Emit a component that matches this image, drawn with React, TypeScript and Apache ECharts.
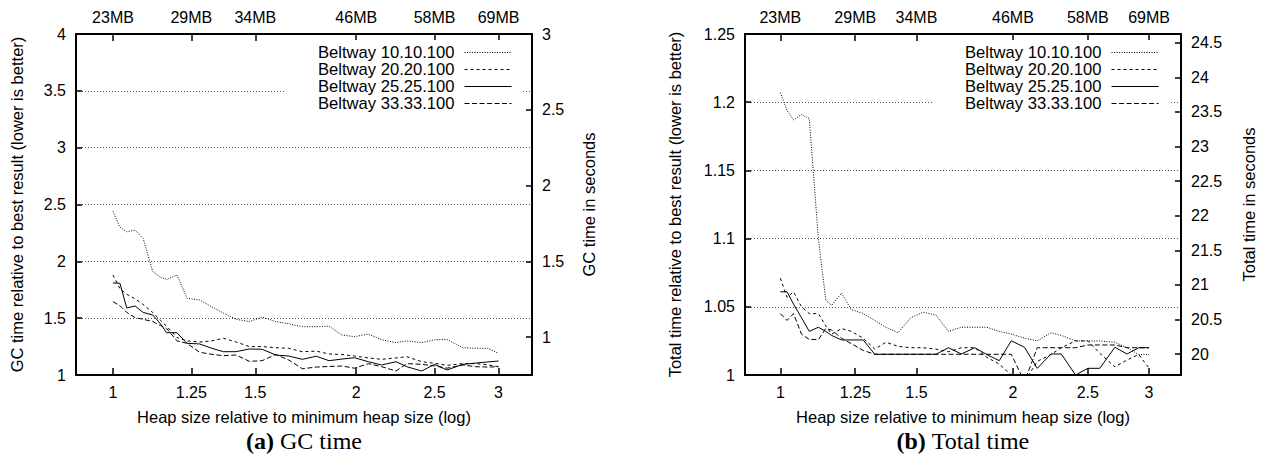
import React, { useEffect, useRef } from 'react';
import * as echarts from 'echarts';

// Heap sizes relative to the minimum heap size (shared by all series)
const HEAP = [1.0, 1.02, 1.04, 1.065, 1.09, 1.12, 1.145, 1.165, 1.2, 1.235, 1.28, 1.325, 1.37, 1.42, 1.475, 1.53, 1.59, 1.65, 1.715, 1.785, 1.85, 1.92, 1.99, 2.07, 2.15, 2.24, 2.31, 2.41, 2.5, 2.59, 2.71, 2.81, 2.91, 3.0];

const SERIES_NAMES = ['Beltway 10.10.100', 'Beltway 20.20.100', 'Beltway 25.25.100', 'Beltway 33.33.100'];

// (a) GC time relative to best result
const GC_10 = [2.44, 2.30, 2.26, 2.275, 2.20, 1.91, 1.86, 1.84, 1.88, 1.675, 1.66, 1.60, 1.545, 1.49, 1.47, 1.51, 1.47, 1.45, 1.425, 1.425, 1.43, 1.352, 1.337, 1.36, 1.31, 1.285, 1.30, 1.285, 1.31, 1.314, 1.24, 1.235, 1.235, 1.19];
const GC_20 = [1.88, 1.76, 1.71, 1.67, 1.62, 1.55, 1.48, 1.43, 1.33, 1.30, 1.29, 1.30, 1.323, 1.29, 1.25, 1.25, 1.24, 1.235, 1.205, 1.21, 1.185, 1.18, 1.167, 1.15, 1.138, 1.15, 1.161, 1.117, 1.103, 1.085, 1.10, 1.10, 1.09, 1.073];
const GC_25 = [1.81, 1.807, 1.59, 1.607, 1.55, 1.528, 1.45, 1.372, 1.372, 1.279, 1.273, 1.235, 1.205, 1.205, 1.229, 1.226, 1.176, 1.167, 1.138, 1.165, 1.126, 1.14, 1.152, 1.117, 1.088, 1.117, 1.073, 1.035, 1.094, 1.044, 1.094, 1.105, 1.115, 1.123];
const GC_33 = [1.645, 1.61, 1.55, 1.505, 1.49, 1.47, 1.435, 1.41, 1.30, 1.279, 1.20, 1.182, 1.17, 1.176, 1.12, 1.126, 1.18, 1.132, 1.055, 1.07, 1.075, 1.079, 1.06, 1.10, 1.073, 1.035, 1.10, 1.094, 1.08, 1.06, 1.088, 1.073, 1.07, 1.073];

// (b) Total time relative to best result
const TOTAL_10 = [1.207, 1.194, 1.187, 1.191, 1.188, 1.10, 1.055, 1.051, 1.06, 1.048, 1.045, 1.04, 1.035, 1.031, 1.042, 1.046, 1.044, 1.032, 1.035, 1.035, 1.035, 1.032, 1.03, 1.027, 1.025, 1.031, 1.029, 1.025, 1.025, 1.025, 1.024, 1.02, 1.015, 1.015];
const TOTAL_20 = [1.071, 1.057, 1.061, 1.05, 1.045, 1.045, 1.036, 1.03, 1.034, 1.032, 1.027, 1.019, 1.024, 1.021, 1.02, 1.02, 1.019, 1.017, 1.02, 1.02, 1.013, 1.008, 1.0, 0.995, 1.01, 1.015, 1.02, 1.025, 1.025, 1.016, 1.006, 1.011, 1.015, 1.005];
const TOTAL_25 = [1.061, 1.061, 1.052, 1.042, 1.032, 1.035, 1.032, 1.029, 1.0257, 1.0257, 1.0257, 1.0152, 1.0152, 1.0152, 1.0152, 1.0152, 1.0152, 1.02, 1.0154, 1.02, 1.015, 1.0105, 1.0251, 1.0203, 1.0049, 1.0154, 1.0154, 1.0, 1.0049, 1.0049, 1.0203, 1.0154, 1.02, 1.02];
const TOTAL_33 = [1.045, 1.04, 1.045, 1.03, 1.026, 1.026, 1.034, 1.033, 1.027, 1.023, 1.018, 1.0152, 1.0152, 1.0152, 1.0152, 1.0152, 1.0152, 1.0152, 1.0152, 1.0152, 1.0152, 1.0152, 1.0152, 0.995, 1.02, 1.02, 1.02, 1.02, 1.022, 1.022, 1.022, 1.02, 1.02, 1.02];

// Tick labels
const X_TICKS = [1, 1.25, 1.5, 2, 2.5, 3];
const X_TICK_LABELS = ['1', '1.25', '1.5', '2', '2.5', '3'];
const MB_LABELS = ['23MB', '29MB', '34MB', '46MB', '58MB', '69MB'];
const GC_SECONDS_TICKS = [1, 1.5, 2, 2.5, 3];
const TOTAL_SECONDS_TICKS = [20, 20.5, 21, 21.5, 22, 22.5, 23, 23.5, 24, 24.5];

const SANS = 'Liberation Sans, Arial, Helvetica, sans-serif';
const SERIF = 'Liberation Serif, Times New Roman, serif';
const TICK_FS = 16;
const NAME_FS = 16.5;

const lx = (v: number) => Math.log(v);

function tickLabel(labels: string[]) {
  return (value: number) => {
    for (let i = 0; i < X_TICKS.length; i++) {
      if (Math.abs(lx(X_TICKS[i]) - value) < 1e-6) return labels[i];
    }
    return '';
  };
}

function xAxis(gridIndex: number, position: 'top' | 'bottom', labels: string[], name?: string) {
  return {
    type: 'value',
    gridIndex,
    position,
    min: lx(0.9),
    max: lx(3.3),
    name: name || '',
    nameLocation: 'middle',
    nameGap: 33,
    nameTextStyle: { fontFamily: SANS, fontSize: NAME_FS, color: '#000' },
    axisLine: { show: true, onZero: false, lineStyle: { color: '#000', width: 2 } },
    axisTick: { show: true, inside: true, length: 7, customValues: X_TICKS.map(lx), lineStyle: { color: '#000', width: 1.5 } },
    axisLabel: { show: true, customValues: X_TICKS.map(lx), margin: 9, formatter: tickLabel(labels), fontFamily: SANS, fontSize: TICK_FS, color: '#000' },
    splitLine: { show: false },
  };
}

function yAxisLeft(gridIndex: number, min: number, max: number, interval: number, name: string, gap: number) {
  return {
    type: 'value',
    gridIndex,
    position: 'left',
    min,
    max,
    interval,
    name,
    nameLocation: 'middle',
    nameGap: gap,
    nameRotate: 90,
    nameTextStyle: { fontFamily: SANS, fontSize: NAME_FS, color: '#000' },
    axisLine: { show: true, onZero: false, lineStyle: { color: '#000', width: 2 } },
    axisTick: { show: true, inside: true, length: 6, lineStyle: { color: '#000', width: 1.5 } },
    axisLabel: { show: true, margin: 10, fontFamily: SANS, fontSize: TICK_FS, color: '#000', showMinLabel: true, showMaxLabel: true },
    splitLine: { show: true, lineStyle: { color: '#555', width: 1, type: [1, 2] } },
  };
}

function yAxisRight(gridIndex: number, min: number, max: number, ticks: number[], name: string, gap: number) {
  return {
    type: 'value',
    gridIndex,
    position: 'right',
    min,
    max,
    name,
    nameLocation: 'middle',
    nameGap: gap,
    nameRotate: 90,
    nameTextStyle: { fontFamily: SANS, fontSize: NAME_FS, color: '#000' },
    axisLine: { show: true, onZero: false, lineStyle: { color: '#000', width: 2 } },
    axisTick: { show: true, inside: true, length: 6, customValues: ticks, lineStyle: { color: '#000', width: 1.5 } },
    axisLabel: { show: true, margin: 10, customValues: ticks, fontFamily: SANS, fontSize: TICK_FS, color: '#000' },
    splitLine: { show: false },
  };
}

const DASH_STYLES: any[] = [[1, 1.5], [3, 3], 'solid', [5, 2.5]];

function lineSeries(idx: number, values: number[], xi: number, yi: number) {
  return {
    type: 'line',
    name: SERIES_NAMES[idx],
    xAxisIndex: xi,
    yAxisIndex: yi,
    data: HEAP.map((h, i) => [lx(h), values[i]]),
    symbol: 'none',
    showSymbol: false,
    clip: true,
    silent: true,
    color: '#000',
    lineStyle: { color: '#000', width: 1, type: DASH_STYLES[idx] },
    itemStyle: { color: '#000' },
  };
}

function legend(left: number) {
  return {
    orient: 'vertical',
    left,
    top: 40,
    align: 'right',
    itemWidth: 47,
    itemHeight: 10,
    itemGap: 0,
    padding: [4, 10, 6, 33],
    backgroundColor: '#fff',
    selectedMode: false,
    data: SERIES_NAMES,
    itemStyle: { opacity: 0 },
    lineStyle: { width: 1 },
    textStyle: { fontFamily: SANS, fontSize: 16.6, lineHeight: 15.5, height: 15.5, color: '#000', padding: [0, 5, 0, 0] },
  };
}

function title(bold: string, rest: string, x: number) {
  return {
    text: '{b|' + bold + '} ' + rest,
    left: x,
    top: 429,
    textAlign: 'center',
    padding: 0,
    textStyle: {
      fontFamily: SERIF, fontSize: 24, fontWeight: 'normal', color: '#000',
      rich: { b: { fontFamily: SERIF, fontSize: 24, fontWeight: 'bold', color: '#000' } },
    },
  };
}

export default function App() {
  const ref = useRef<HTMLDivElement>(null);
  useEffect(() => {
    document.body.style.margin = '0';
    const chart = echarts.init(ref.current!, null, { renderer: 'svg' });
    const option: any = {
      animation: false,
      backgroundColor: '#fff',
      grid: [
        { left: 76, top: 34, width: 456, height: 341, containLabel: false },
        { left: 745, top: 34, width: 436, height: 341, containLabel: false },
      ],
      xAxis: [
        xAxis(0, 'bottom', X_TICK_LABELS, 'Heap size relative to minimum heap size (log)'),
        xAxis(0, 'top', MB_LABELS),
        xAxis(1, 'bottom', X_TICK_LABELS, 'Heap size relative to minimum heap size (log)'),
        xAxis(1, 'top', MB_LABELS),
      ],
      yAxis: [
        yAxisLeft(0, 1, 4, 0.5, 'GC time relative to best result (lower is better)', 51),
        yAxisRight(0, 0.75, 3, GC_SECONDS_TICKS, 'GC time in seconds', 48),
        yAxisLeft(1, 1, 1.25, 0.05, 'Total time relative to best result (lower is better)', 62),
        yAxisRight(1, 19.7, 24.625, TOTAL_SECONDS_TICKS, 'Total time in seconds', 59),
      ],
      legend: [legend(285), legend(932)],
      title: [title('(a)', 'GC time', 304), title('(b)', 'Total time', 963)],
      series: [
        lineSeries(0, GC_10, 0, 0),
        lineSeries(1, GC_20, 0, 0),
        lineSeries(2, GC_25, 0, 0),
        lineSeries(3, GC_33, 0, 0),
        lineSeries(0, TOTAL_10, 2, 2),
        lineSeries(1, TOTAL_20, 2, 2),
        lineSeries(2, TOTAL_25, 2, 2),
        lineSeries(3, TOTAL_33, 2, 2),
      ],
    };
    chart.setOption(option);
    return () => chart.dispose();
  }, []);
  return <div ref={ref} style={{ width: 1263, height: 464 }} />;
}
